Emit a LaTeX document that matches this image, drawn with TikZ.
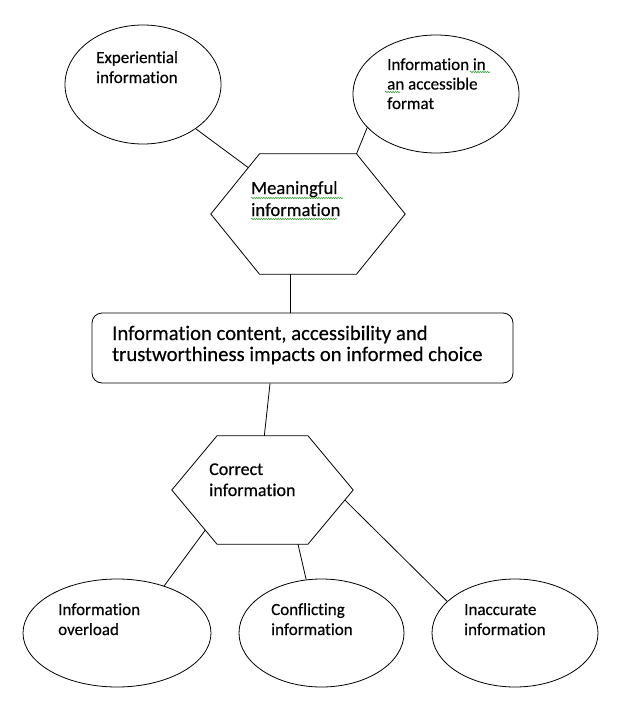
\documentclass[tikz,border=0pt]{standalone}
\usepackage{fontspec}
\setmainfont{Carlito}[Ligatures={NoCommon}, FakeBold=0.4]
\usetikzlibrary{shapes.geometric,calc,decorations.pathmorphing}
\definecolor{spellgreen}{RGB}{60,160,60}
\tikzset{
  ell/.style={draw, ellipse, inner sep=0pt, line width=0.8pt},
  hexbox/.style={draw=none, rectangle, inner sep=0pt},
  hexline/.style={draw, line width=0.8pt, line join=miter},
  conn/.style={draw, line width=0.8pt},
  lbl/.style={anchor=base west, inner sep=0pt, text=black},
  squig/.style={draw=spellgreen, line width=0.6pt, decorate,
    decoration={snake, segment length=2.4pt, amplitude=0.7pt}},
  mainbox/.style={draw, rectangle, rounded corners=10pt, line width=0.8pt, inner sep=0pt}
}
\newcommand{\lines}[1]{\begin{tabular}[t]{@{}l@{}}#1\end{tabular}}
\begin{document}
\begin{tikzpicture}[x=1pt,y=-1pt]
\useasboundingbox (0,0) rectangle (627,712);

% ellipses
\node[ell, minimum width=156pt, minimum height=119pt] (e1) at (143,84.5) {};
\node[ell, minimum width=166pt, minimum height=118pt] (e2) at (436,94) {};
\node[ell, minimum width=188pt, minimum height=108pt] (e3) at (117,633) {};
\node[ell, minimum width=165pt, minimum height=108pt] (e4) at (321.5,633) {};
\node[ell, minimum width=166pt, minimum height=108pt] (e5) at (515,633) {};

% hexagon A
\node[hexbox, minimum width=194pt, minimum height=120pt] (hexA) at (308,214) {};
\coordinate (hAnw) at ($(hexA.north)+(-48.5,0)$);
\coordinate (hAne) at ($(hexA.north)+(48.5,0)$);
\coordinate (hAsw) at ($(hexA.south)+(-48.5,0)$);
\coordinate (hAse) at ($(hexA.south)+(48.5,0)$);
\draw[hexline] (hexA.west) -- (hAnw) -- (hAne) -- (hexA.east) -- (hAse) -- (hAsw) -- cycle;

% hexagon B
\node[hexbox, minimum width=181pt, minimum height=108pt] (hexB) at (262.5,490) {};
\coordinate (hBnw) at ($(hexB.north)+(-45.5,0)$);
\coordinate (hBne) at ($(hexB.north)+(45.5,0)$);
\coordinate (hBsw) at ($(hexB.south)+(-45.5,0)$);
\coordinate (hBse) at ($(hexB.south)+(45.5,0)$);
\draw[hexline] (hexB.west) -- (hBnw) -- (hBne) -- (hexB.east) -- (hBse) -- (hBsw) -- cycle;

% central box
\node[mainbox, minimum width=421pt, minimum height=70pt] (box) at (302.5,348) {};

% texts
\node[lbl] (tE1) at (96,63) {\fontsize{17}{20}\selectfont\lines{Experiential\\information}};
\node[lbl] (tE2) at (387,70) {\fontsize{17}{19.5}\selectfont\lines{Information in\\an accessible\\format}};
\node[lbl] (tHA) at (251,194) {\fontsize{18.6}{22}\selectfont\lines{Meaningful\\information}};
\node[lbl] (tBox) at (112,340) {\fontsize{20.7}{21}\selectfont\lines{Information content, accessibility and\\trustworthiness impacts on informed choice}};
\node[lbl] (tHB) at (209,475) {\fontsize{18}{21}\selectfont\lines{Correct\\information}};
\node[lbl] (tE3) at (58,615) {\fontsize{17}{20}\selectfont\lines{Information\\overload}};
\node[lbl] (tE4) at (271,615) {\fontsize{17}{20}\selectfont\lines{Conflicting\\information}};
\node[lbl] (tE5) at (464,615) {\fontsize{17}{20}\selectfont\lines{Inaccurate\\information}};

% spell-check squiggles
\draw[squig] (251,198) -- (343,198);
\draw[squig] (251,219) -- (337,219);
\draw[squig] (470,72) -- (490,72);
\draw[squig] (385,92) -- (400,92);

% connectors
\draw[conn] (e1.-40) -- ($(hexA.west)!0.77!(hAnw)$);
\draw[conn] (e2.206) -- (hAne);
\coordinate (cA) at ($(hAsw)!0.32!(hAse)$);
\draw[conn] (cA) -- (cA |- box.north);
\draw[conn] ($(box.south west)!0.423!(box.south east)$) -- ($(hBnw)!0.52!(hBne)$);
\draw[conn] ($(hexB.west)!0.74!(hBsw)$) -- (e3.45);
\draw[conn] ($(hBsw)!0.89!(hBse)$) -- (e4.106);
\draw[conn] ($(hexB.east)!0.185!(hBse)$) -- (e5.155);
\end{tikzpicture}
\end{document}
